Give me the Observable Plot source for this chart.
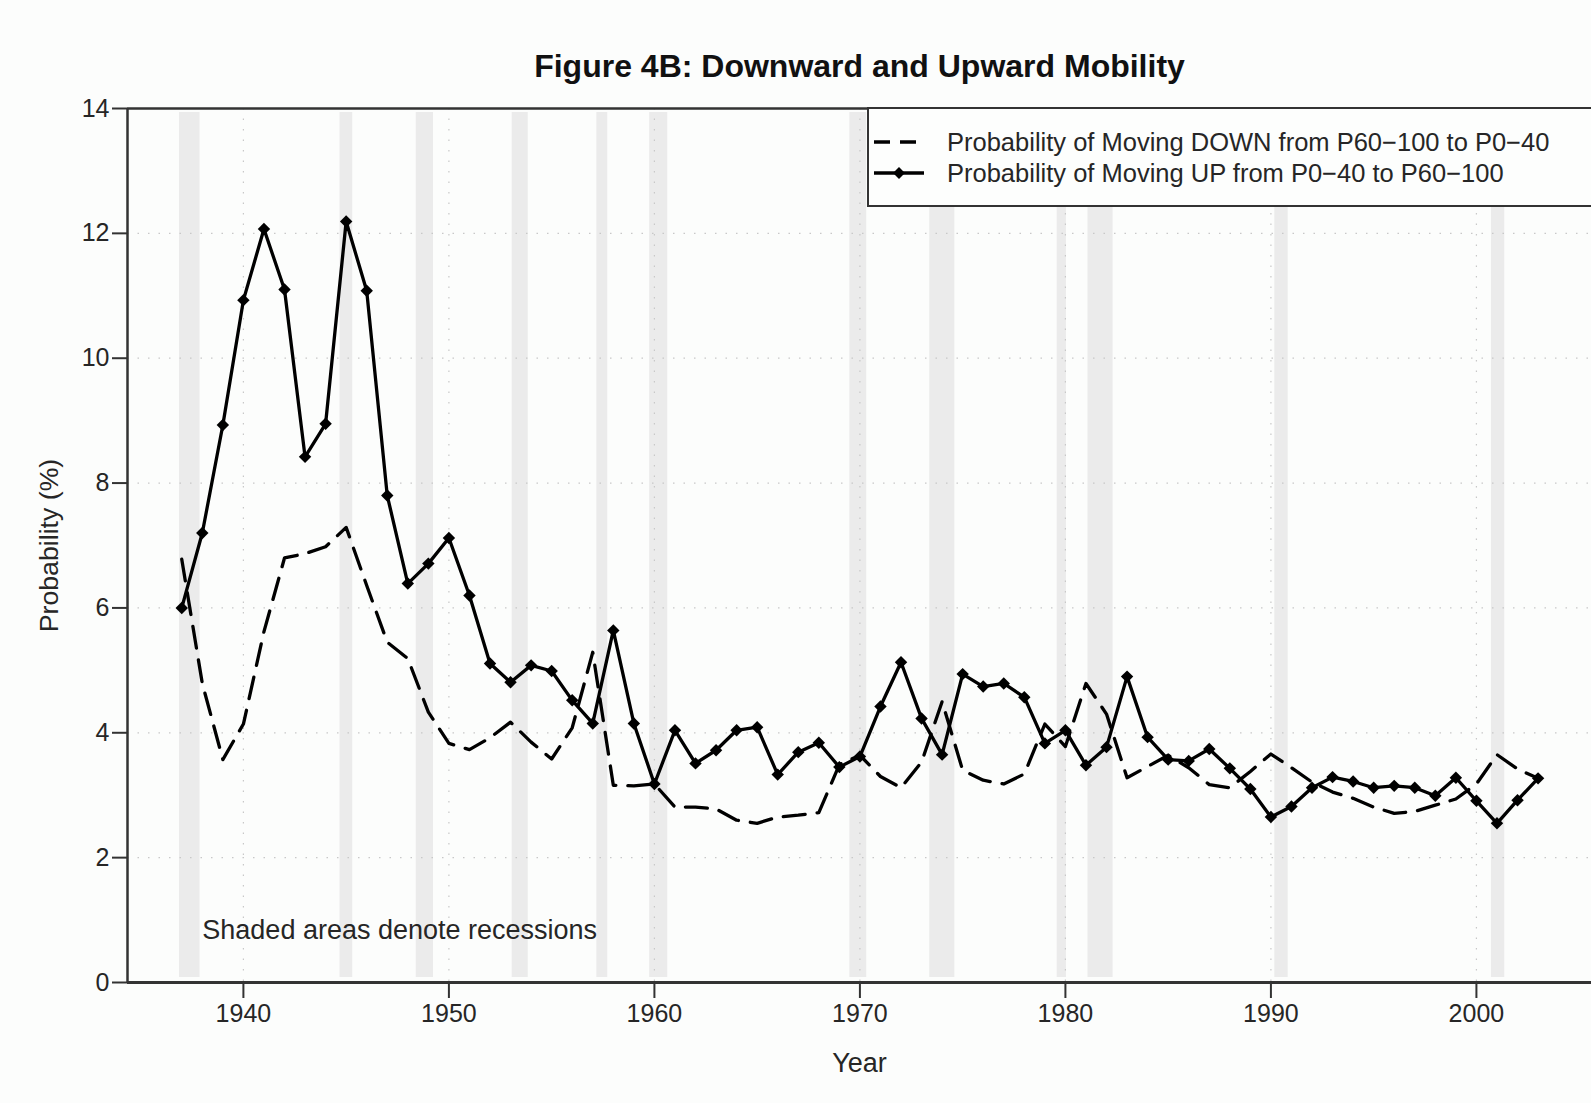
<!DOCTYPE html>
<html>
<head>
<meta charset="utf-8">
<script src="https://cdn.jsdelivr.net/npm/d3@7"></script>
<script src="https://cdn.jsdelivr.net/npm/@observablehq/plot@0.6"></script>
<style>
  html, body { margin: 0; padding: 0; background: #fcfdfc; overflow: hidden; width: 1591px; height: 1103px; }
  #wrap { position: relative; width: 1591px; height: 1103px; font-family: "Liberation Sans", Arial, Helvetica, sans-serif; }
  #chart { position: absolute; left: 0; top: 0; }
  #title { position: absolute; left: 127px; width: 1465px; top: 50px; text-align: center; font-size: 32px; line-height: 32px; font-weight: bold; color: #111; }
  #legend { position: absolute; left: 867px; top: 107px; width: 800px; height: 96px; border: 2px solid #333; background: #fdfefd; }
</style>
</head>
<body>
<div id="wrap">
  <div id="chart"></div>
  <div id="title"></div>
  <div id="legend"></div>
</div>
<script>
// ---- data ----
const titleText = "Figure 4B: Downward and Upward Mobility";
const years = [1937,1938,1939,1940,1941,1942,1943,1944,1945,1946,1947,1948,1949,
  1950,1951,1952,1953,1954,1955,1956,1957,1958,1959,
  1960,1961,1962,1963,1964,1965,1966,1967,1968,1969,
  1970,1971,1972,1973,1974,1975,1976,1977,1978,1979,
  1980,1981,1982,1983,1984,1985,1986,1987,1988,1989,
  1990,1991,1992,1993,1994,1995,1996,1997,1998,1999,
  2000,2001,2002,2003];
const upValues = [6.00,7.20,8.93,10.93,12.07,11.10,8.42,8.95,12.19,11.08,7.80,6.39,6.71,
  7.12,6.20,5.11,4.81,5.08,4.99,4.52,4.15,5.64,4.15,
  3.18,4.04,3.51,3.72,4.04,4.09,3.33,3.69,3.84,3.45,
  3.62,4.42,5.13,4.23,3.65,4.94,4.74,4.79,4.57,3.83,
  4.04,3.48,3.77,4.90,3.93,3.57,3.55,3.74,3.43,3.10,
  2.65,2.82,3.12,3.29,3.22,3.12,3.15,3.12,2.99,3.28,
  2.91,2.55,2.92,3.27];
const downValues = [6.78,4.79,3.57,4.14,5.62,6.80,6.87,6.98,7.29,6.36,5.45,5.19,4.33,
  3.83,3.73,3.92,4.17,3.85,3.58,4.08,5.29,3.16,3.15,
  3.18,2.81,2.81,2.78,2.60,2.55,2.65,2.68,2.72,3.49,
  3.64,3.30,3.12,3.53,4.50,3.40,3.24,3.18,3.34,4.14,
  3.78,4.79,4.30,3.28,3.46,3.64,3.44,3.17,3.12,3.38,
  3.66,3.44,3.21,3.05,2.95,2.81,2.71,2.74,2.84,2.94,
  3.18,3.65,3.42,3.27];
const recessionStart = [1936.89,1944.70,1948.41,1953.08,1957.20,1959.77,1969.51,1973.40,1979.60,1981.10,1990.19,2000.73];
const recessionEnd   = [1937.89,1945.32,1949.25,1953.86,1957.73,1960.65,1970.33,1974.62,1980.05,1982.32,1990.84,2001.38];
const xTicks = [1940,1950,1960,1970,1980,1990,2000];
const yTicks = [0,2,4,6,8,10,12,14];
const yGrid = [2,4,6,8,10,12];
const xLabel = ["Year"];
const yLabel = ["Probability (%)"];
const noteText = ["Shaded areas denote recessions"];
const legendLabels = ["Probability of Moving DOWN from P60\u2212100 to P0\u221240",
                      "Probability of Moving UP from P0\u221240 to P60\u2212100"];

// ---- tables ----
const upData = years.map((y, i) => ({year: y, value: upValues[i]}));
const downData = years.map((y, i) => ({year: y, value: downValues[i]}));
const recessions = recessionStart.map((s, i) => ({start: s, end: recessionEnd[i]}));
const xDomain = [1934.36, 2005.6];

const font = "Liberation Sans, Arial, Helvetica, sans-serif";
const txt = "#262626";

const chart = Plot.plot({
  width: 1591,
  height: 1103,
  marginTop: 108,
  marginBottom: 121,
  marginLeft: 127,
  marginRight: 0,
  x: {domain: xDomain},
  y: {domain: [0, 14]},
  style: {background: "transparent", fontFamily: font, fontSize: "25px", color: txt, overflow: "visible"},
  marks: [
    Plot.rect(recessions, {x1: "start", x2: "end", y1: 0, y2: 14, fill: "#ebebeb", insetTop: 4, insetBottom: 5}),
    Plot.ruleY(yGrid, {stroke: "#c8c8c8", strokeWidth: 1.2, strokeDasharray: "1.5,9"}),
    Plot.ruleX(xTicks, {stroke: "#c8c8c8", strokeWidth: 1.2, strokeDasharray: "1.5,9"}),
    Plot.axisX({ticks: xTicks, tickFormat: d => String(d), tickSize: 16, tickPadding: 6, strokeWidth: 2, stroke: "#333", fill: txt, label: null}),
    Plot.axisY({ticks: yTicks, tickSize: 15, tickPadding: 3, strokeWidth: 2, stroke: "#333", fill: txt, label: null}),
    Plot.ruleY([0], {stroke: "#333", strokeWidth: 3.2}),
    Plot.ruleY([14], {stroke: "#333", strokeWidth: 2.5}),
    Plot.ruleX([xDomain[0]], {stroke: "#333", strokeWidth: 2.5}),
    Plot.line(downData, {x: "year", y: "value", stroke: "#000", strokeWidth: 3.3, strokeDasharray: "22,12", strokeLinejoin: "round"}),
    Plot.line(upData, {x: "year", y: "value", stroke: "#000", strokeWidth: 3.3, strokeLinejoin: "round"}),
    Plot.dot(upData, {x: "year", y: "value", symbol: "diamond2", r: 5.6, fill: "#000", stroke: null}),
    Plot.text(noteText, {x: 1938, y: 0.83, text: d => d, textAnchor: "start", fontSize: 27, fill: txt}),
    Plot.text(xLabel, {frameAnchor: "bottom", text: d => d, dy: 89, fontSize: 27, fill: txt}),
    Plot.text(yLabel, {frameAnchor: "left", text: d => d, rotate: -90, textAnchor: "middle", dx: -78, fontSize: 26.7, fill: txt})
  ]
});
document.getElementById("chart").appendChild(chart);
document.getElementById("title").textContent = titleText;

// ---- legend ----
const lg = d3.select("#legend").append("svg").attr("width", 800).attr("height", 96)
  .style("font-family", font);
const rows = [
  {label: legendLabels[0], dash: "16,10", marker: false, y: 33},
  {label: legendLabels[1], dash: null, marker: true, y: 64}
];
rows.forEach(r => {
  lg.append("line").attr("x1", 5).attr("x2", 55).attr("y1", r.y).attr("y2", r.y)
    .attr("stroke", "#000").attr("stroke-width", 3.3)
    .attr("stroke-dasharray", r.dash);
  if (r.marker) {
    lg.append("path").attr("d", d3.symbol(d3.symbolDiamond2, 90)())
      .attr("transform", `translate(30,${r.y})`).attr("fill", "#000");
  }
  lg.append("text").attr("x", 78).attr("y", r.y).attr("dy", "0.35em")
    .attr("font-size", 25.5).attr("fill", txt).text(r.label);
});
</script>
</body>
</html>
